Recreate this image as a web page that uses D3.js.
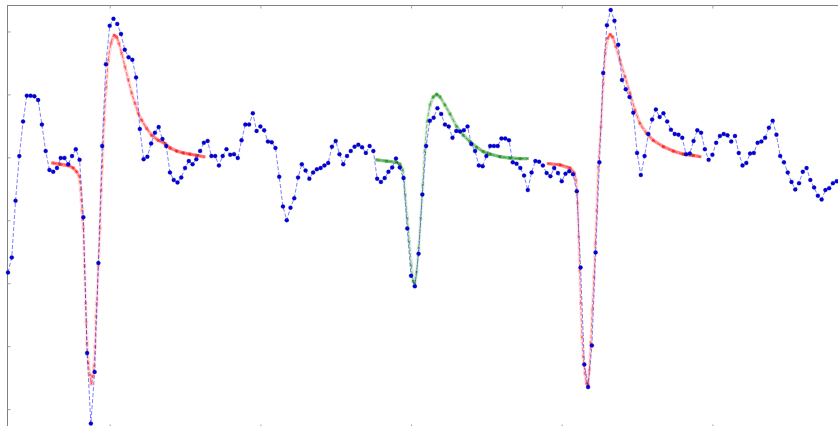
<!DOCTYPE html>
<meta charset="utf-8">
<style>
body { margin: 0; background: #fff; }
svg { display: block; }
</style>
<script src="https://cdn.jsdelivr.net/npm/d3@7"></script>
<body>
<script>
// recorded samples (one per index)
const signal = [
  -1.83, -1.59, -0.69, 0.02, 0.57, 0.98, 0.98, 0.97, 0.91, 0.52,
  0.10, -0.20, -0.23, -0.17, -0.01, -0.01, -0.11, 0.02, 0.13, -0.04,
  -0.95, -3.11, -4.23, -3.41, -1.68, 0.18, 1.48, 2.09, 2.20, 2.12,
  1.96, 1.71, 1.59, 1.55, 1.27, 0.45, -0.03, 0.01, 0.22, 0.39,
  0.48, 0.29, 0.18, -0.24, -0.36, -0.40, -0.32, -0.17, -0.06, -0.11,
  -0.03, 0.10, 0.23, 0.26, 0.02, 0.02, -0.13, 0.02, 0.13, 0.04,
  0.05, -0.01, 0.27, 0.52, 0.52, 0.70, 0.42, 0.49, 0.43, 0.25,
  0.24, 0.15, -0.31, -0.78, -1.00, -0.80, -0.65, -0.32, -0.11, -0.21,
  -0.34, -0.24, -0.19, -0.17, -0.13, -0.09, 0.17, 0.26, 0.05, -0.11,
  0.02, 0.10, 0.17, 0.20, 0.16, 0.07, 0.18, 0.10, -0.34, -0.39,
  -0.33, -0.23, -0.16, -0.02, -0.16, -0.33, -1.13, -1.88, -2.05, -1.53,
  -0.59, 0.18, 0.58, 0.63, 0.78, 0.69, 0.52, 0.49, 0.31, 0.42,
  0.41, 0.43, 0.49, 0.21, 0.10, -0.13, -0.14, 0.02, 0.18, 0.18,
  0.18, 0.30, 0.30, 0.27, -0.08, -0.10, -0.17, -0.29, -0.52, -0.24,
  -0.06, -0.07, -0.13, -0.25, -0.30, -0.17, -0.25, -0.38, -0.26, -0.22,
  -0.27, -0.54, -1.75, -3.29, -3.65, -2.99, -1.51, -0.08, 1.34, 2.10,
  2.34, 2.17, 1.79, 1.23, 1.08, 0.96, 0.71, 0.07, -0.28, 0.02,
  0.37, 0.60, 0.76, 0.64, 0.70, 0.57, 0.44, 0.37, 0.36, 0.31,
  0.05, 0.06, 0.26, 0.43, 0.39, 0.13, -0.04, 0.04, 0.23, 0.34,
  0.37, 0.35, 0.25, 0.34, 0.07, -0.13, -0.09, 0.06, 0.07, 0.23,
  0.25, 0.31, 0.47, 0.58, 0.36, 0.02, -0.08, -0.24, -0.39, -0.51,
  -0.41, -0.23, -0.17, -0.36, -0.48, -0.61, -0.67, -0.52, -0.49, -0.41,
  -0.38
];

// fitted templates, [sample, value]
const fitFirst = [
  [11.87, -0.09], [13.80, -0.11], [16.01, -0.13], [17.33, -0.17], [18.24, -0.23],
  [18.93, -0.30], [19.11, -0.39], [19.30, -0.52], [19.46, -0.68], [19.64, -0.84],
  [19.83, -0.99], [19.99, -1.12], [20.31, -1.72], [20.63, -2.32], [20.79, -2.63],
  [20.97, -2.95], [21.32, -3.27], [21.77, -3.46], [22.11, -3.60], [22.48, -3.48],
  [22.83, -3.32], [23.10, -3.01], [23.36, -2.53], [23.55, -2.32], [23.98, -1.72],
  [24.42, -1.13], [24.77, -0.52], [25.03, -0.15], [25.56, 0.59], [26.09, 1.12],
  [26.62, 1.54], [27.34, 1.81], [28.22, 1.94], [28.85, 1.91], [29.46, 1.81],
  [30.18, 1.65], [31.06, 1.44], [31.94, 1.23], [32.84, 1.02], [33.71, 0.86],
  [34.59, 0.70], [35.49, 0.59], [36.82, 0.46], [38.15, 0.35], [39.90, 0.27],
  [41.68, 0.22], [43.00, 0.15], [44.78, 0.10], [46.54, 0.07], [48.31, 0.05],
  [50.09, 0.03], [52.03, 0.01]
];

const fitMiddle = [
  [97.88, -0.04], [100.53, -0.06], [103.19, -0.08], [104.06, -0.11], [104.78, -0.20],
  [105.12, -0.33], [105.47, -0.60], [106.00, -0.97], [106.53, -1.34], [107.06, -1.71],
  [107.59, -1.97], [107.96, -2.00], [108.49, -1.82], [109.02, -1.44], [109.56, -0.97],
  [110.09, -0.44], [110.62, 0.09], [111.31, 0.57], [112.02, 0.83], [112.90, 0.96],
  [113.81, 1.00], [114.68, 0.96], [116.01, 0.83], [117.34, 0.69], [119.11, 0.49],
  [120.87, 0.35], [122.64, 0.25], [124.42, 0.16], [126.18, 0.09], [127.95, 0.05],
  [130.61, 0.01], [133.26, -0.01], [135.92, -0.02], [137.86, -0.02]
];

const fitLast = [
  [143.43, -0.10], [146.54, -0.12], [149.19, -0.17], [150.33, -0.25], [150.78, -0.36],
  [151.23, -0.73], [151.50, -1.26], [151.76, -1.79], [152.03, -2.32], [152.38, -2.85],
  [152.72, -3.17], [153.17, -3.43], [153.62, -3.59], [153.97, -3.61], [154.32, -3.38],
  [154.69, -2.95], [155.11, -2.42], [155.56, -1.90], [155.91, -1.37], [156.28, -0.84],
  [156.70, -0.15], [157.42, 0.49], [158.03, 1.17], [158.56, 1.65], [159.20, 1.89],
  [159.89, 1.95], [160.53, 1.91], [161.40, 1.76], [162.47, 1.54], [163.79, 1.28],
  [165.12, 1.02], [166.45, 0.75], [167.77, 0.54], [169.55, 0.38], [171.30, 0.27],
  [173.96, 0.17], [176.61, 0.10], [179.27, 0.05], [181.92, 0.03], [183.70, 0.01]
];

const xTicks = [27, 67, 107, 147, 187];
const yTicks = [-4, -3, -2, -1, 0, 1, 2];

const W = 838, H = 426;
const plot = { left: 7.5, top: 5.5, right: 900, bottom: 427.5 };

const svg = d3.select('body')
  .append('svg')
    .attr('width', W)
    .attr('height', H);

const x = d3.scaleLinear().domain([0, 220]).range([8, 836.7]);
const y = d3.scaleLinear().domain([-4.3, 2.42]).range([428, 5]);

// frame (right and bottom sides fall outside the picture)
svg.append('rect')
  .attr('x', plot.left)
  .attr('y', plot.top)
  .attr('width', plot.right - plot.left)
  .attr('height', plot.bottom - plot.top)
  .attr('fill', 'none')
  .attr('stroke', '#808080')
  .attr('stroke-width', 1);

// inward ticks, no labels
const tickLen = 3;
const tickColor = '#a0a0a0';
svg.append('g')
  .attr('transform', `translate(0, ${plot.top})`)
  .call(d3.axisBottom(x).tickValues(xTicks).tickSize(tickLen).tickFormat(''))
  .call(g => g.select('.domain').remove())
  .selectAll('line').attr('stroke', tickColor);
svg.append('g')
  .attr('transform', `translate(0, ${plot.bottom})`)
  .call(d3.axisTop(x).tickValues(xTicks).tickSize(tickLen).tickFormat(''))
  .call(g => g.select('.domain').remove())
  .selectAll('line').attr('stroke', tickColor);
svg.append('g')
  .attr('transform', `translate(${plot.left}, 0)`)
  .call(d3.axisRight(y).tickValues(yTicks).tickSize(tickLen).tickFormat(''))
  .call(g => g.select('.domain').remove())
  .selectAll('line').attr('stroke', tickColor);

// fitted curves
const fitLine = d3.line()
  .x(d => x(d[0]))
  .y(d => y(d[1]))
  .curve(d3.curveMonotoneX);

function drawFit(data, color) {
  const g = svg.append('g');
  // thick translucent band, fading where the curve is steep
  // (the dense fit markers only merge into a band on the flat parts)
  const segs = d3.pairs(data);
  g.selectAll('line.band')
    .data(segs)
    .enter()
    .append('line')
      .attr('class', 'band')
      .attr('x1', d => x(d[0][0]))
      .attr('y1', d => y(d[0][1]))
      .attr('x2', d => x(d[1][0]))
      .attr('y2', d => y(d[1][1]))
      .attr('stroke', color)
      .attr('stroke-width', 3.4)
      .attr('stroke-linecap', 'round')
      .attr('stroke-opacity', d => {
        const dx = x(d[1][0]) - x(d[0][0]);
        const dy = y(d[1][1]) - y(d[0][1]);
        const c = dx / Math.hypot(dx, dy);
        return 0.07 + 0.43 * c;
      });
  g.append('path')
    .attr('d', fitLine(data))
    .attr('fill', 'none')
    .attr('stroke', color)
    .attr('stroke-width', 1)
    .attr('stroke-dasharray', '4,2')
    .attr('stroke-opacity', 0.5);
  const s = 1.5;
  g.selectAll('path.mk')
    .data(data)
    .enter()
    .append('path')
      .attr('class', 'mk')
      .attr('d', d => {
        const cx = x(d[0]), cy = y(d[1]);
        return `M${cx - s},${cy - s}L${cx + s},${cy + s}M${cx - s},${cy + s}L${cx + s},${cy - s}`;
      })
      .attr('stroke', color)
      .attr('stroke-width', 0.8)
      .attr('stroke-opacity', 0.35);
}

drawFit(fitFirst, '#ff0000');
drawFit(fitMiddle, '#008000');
drawFit(fitLast, '#ff0000');

// recorded signal
const sigLine = d3.line()
  .x((d, i) => x(i))
  .y(d => y(d));

svg.append('path')
  .attr('d', sigLine(signal))
  .attr('fill', 'none')
  .attr('stroke', '#0000ff')
  .attr('stroke-width', 1)
  .attr('stroke-dasharray', '4,2')
  .attr('stroke-opacity', 0.5);

svg.selectAll('circle.pt')
  .data(signal)
  .enter()
  .append('circle')
    .attr('class', 'pt')
    .attr('cx', (d, i) => x(i))
    .attr('cy', d => y(d))
    .attr('r', 2)
    .attr('fill', '#0000e0')
    .attr('stroke', '#000080')
    .attr('stroke-width', 0.3);
</script>
</body>
</html>
